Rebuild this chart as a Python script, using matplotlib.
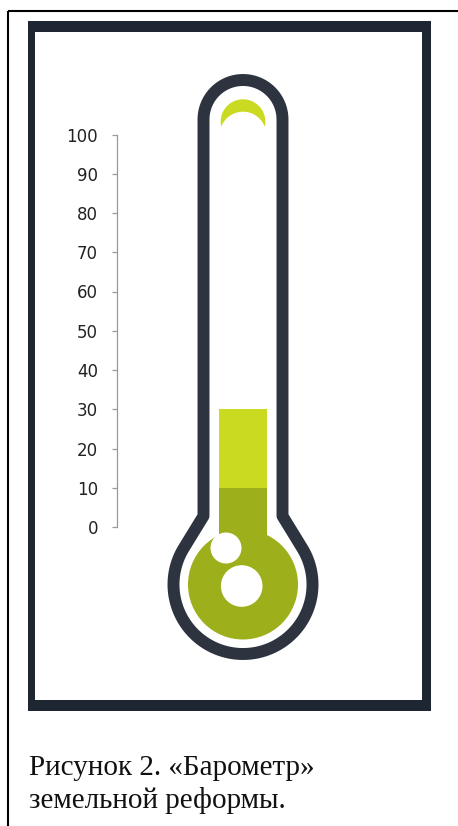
import numpy as np
import matplotlib.pyplot as plt
from matplotlib.patches import Rectangle, Circle, Polygon

# chart data
categories = ['Реформа']
level_done = [10]      # dark part of the column
level_extra = [20]     # light part stacked on top, up to 30
tick_values = [0, 10, 20, 30, 40, 50, 60, 70, 80, 90, 100]
tick_labels = ['0', '10', '20', '30', '40', '50', '60', '70', '80', '90', '100']
caption_lines = ['Рисунок 2. «Барометр»', 'земельной реформы.']

W, H = 458, 826
FRAME = '#1f2633'
OUTLINE = '#2d3440'
GREEN_LIGHT = '#c9da21'
GREEN_DARK = '#9db01c'

# pixel geometry of the picture
cx = 243.0
zero_px, hundred_px = 527.0, 134.5
bulb_cy = 584.5
bar_px = 48.0

fig = plt.figure(figsize=(W / 100, H / 100), dpi=100)

# background layer, pixel coordinates (y down)
bg = fig.add_axes([0, 0, 1, 1], zorder=0)
bg.set_xlim(0, W)
bg.set_ylim(H, 0)
bg.axis('off')

# thin page lines
bg.plot([7.5, W], [11, 11], color='black', lw=1.5, solid_capstyle='butt')
bg.plot([7.5, 7.5], [11, H], color='black', lw=1.5, solid_capstyle='butt')

# thick frame
bg.add_patch(Rectangle((28, 21), 403, 690, fc=FRAME, lw=0))
bg.add_patch(Rectangle((35, 32), 387, 668, fc='white', lw=0))

# thermometer outline (centre line of the stroke)
hw, top_cy, r_bulb, shoulder_y = 39.5, 119.5, 69.5, 516.0
pts = []
for t in np.linspace(np.pi, 2 * np.pi, 60):
    pts.append((cx + hw * np.cos(t), top_cy + hw * np.sin(t)))
d = np.hypot(hw, bulb_cy - shoulder_y)
alpha = np.arccos(r_bulb / d)
phi_r = np.arctan2(shoulder_y - bulb_cy, hw)
phi_l = np.arctan2(shoulder_y - bulb_cy, -hw)
t0 = phi_r + alpha
t1 = phi_l - alpha + 2 * np.pi
pts.append((cx + hw, shoulder_y))
for t in np.linspace(t0, t1, 120):
    pts.append((cx + r_bulb * np.cos(t), bulb_cy + r_bulb * np.sin(t)))
pts.append((cx - hw, shoulder_y))
bg.add_patch(Polygon(pts, closed=True, fc='white', ec=OUTLINE, lw=8.6, joinstyle='round'))

# crescent at the top of the tube
c1y, r1 = 121.6, 22.3
c2y, r2 = 134.9, 23.2
tip_y = (r1 ** 2 - r2 ** 2 - c1y ** 2 + c2y ** 2) / (2 * (c2y - c1y))
tip_dx = np.sqrt(r1 ** 2 - (tip_y - c1y) ** 2)
a_l = np.arctan2(tip_y - c1y, -tip_dx)
a_r = np.arctan2(tip_y - c1y, tip_dx) + 2 * np.pi
b_r = np.arctan2(tip_y - c2y, tip_dx) + 2 * np.pi
b_l = np.arctan2(tip_y - c2y, -tip_dx) + 2 * np.pi
cres = [(cx + r1 * np.cos(t), c1y + r1 * np.sin(t)) for t in np.linspace(a_l, a_r, 60)]
cres += [(cx + r2 * np.cos(t), c2y + r2 * np.sin(t)) for t in np.linspace(b_r, b_l, 60)]
bg.add_patch(Polygon(cres, closed=True, fc=GREEN_LIGHT, lw=0))

# caption
bg.text(29, 775, caption_lines[0], fontsize=21, family='Liberation Serif', color='#111111', va='baseline')
bg.text(29, 808, caption_lines[1], fontsize=21, family='Liberation Serif', color='#111111', va='baseline')

# column chart layer
ax_left = 117.0
ax_w = 2 * (cx - ax_left)
ax = fig.add_axes([ax_left / W, (H - zero_px) / H, ax_w / W, (zero_px - hundred_px) / H], zorder=1)
ax.patch.set_alpha(0)
ax.bar(categories, level_done, width=1, color=GREEN_DARK, lw=0)
ax.bar(categories, level_extra, bottom=level_done, width=1, color=GREEN_LIGHT, lw=0)
half = ax_w / 2 / bar_px
ax.set_xlim(-half, half)
ax.set_ylim(0, 100)
ax.set_yticks(tick_values, tick_labels)
ax.set_xticks([])
for s in ['top', 'right', 'bottom']:
    ax.spines[s].set_visible(False)
ax.spines['left'].set_color('#9a9a9a')
ax.spines['left'].set_linewidth(0.9)
ax.tick_params(axis='y', direction='out', length=3.6, width=0.9, color='#9a9a9a',
               pad=10, labelsize=12, labelcolor='#222222')

# bulb on top
fg = fig.add_axes([0, 0, 1, 1], zorder=2)
fg.set_xlim(0, W)
fg.set_ylim(H, 0)
fg.axis('off')
fg.patch.set_alpha(0)
fg.add_patch(Rectangle((cx - bar_px / 2, zero_px - 0.5), bar_px, bulb_cy - zero_px, fc=GREEN_DARK, lw=0))
fg.add_patch(Circle((cx, bulb_cy), 55, fc=GREEN_DARK, lw=0))
fg.add_patch(Circle((226, 548), 15.5, fc='white', lw=0))
fg.add_patch(Circle((241.7, 586), 20.8, fc='white', lw=0))

fig.savefig('out.png', dpi=100)
